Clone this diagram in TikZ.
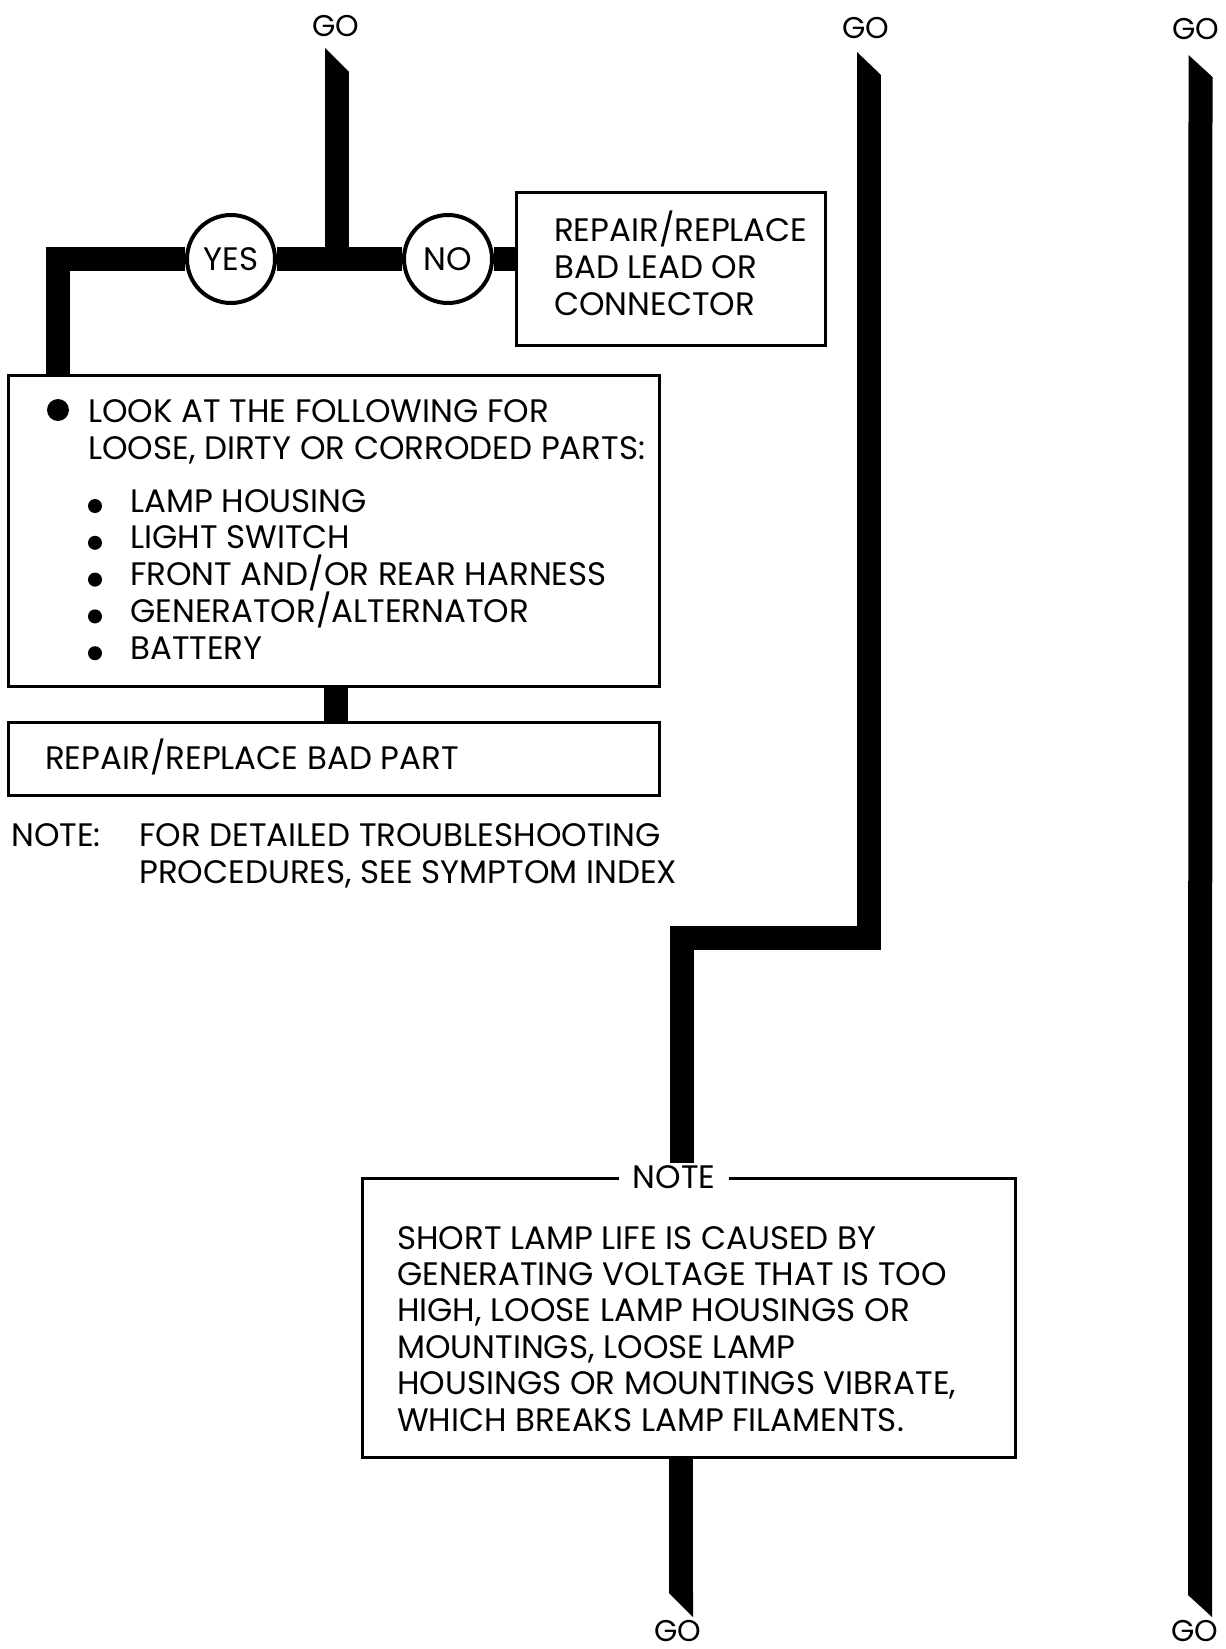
\documentclass[tikz,border=0pt]{standalone}
\usepackage{fontspec}
\setmainfont{Poppins}
\usetikzlibrary{positioning,calc}

\tikzset{
  flow/.style={line width=24pt, line join=miter},
  box/.style={draw, line width=3pt, rectangle, inner sep=0pt, anchor=north west},
  answer/.style={draw, circle, line width=4pt, fill=white, minimum size=88pt, inner sep=0pt},
  txt/.style={inner sep=0pt, anchor=base west},
  golabel/.style={inner sep=0pt, anchor=base, font=\fontsize{30}{36}\selectfont}
}

\begin{document}
\begin{tikzpicture}[x=1pt, y=-1pt, font=\fontsize{32.5}{37}\selectfont]
\useasboundingbox (0,0) rectangle (1226,1649);

% go labels
\node[golabel] (goA) at (336,36) {GO};
\node[golabel] (goB) at (866,38) {GO};
\node[golabel] (goC) at (1196,39) {GO};
\node[golabel] (goD) at (678,1641) {GO};
\node[golabel] (goE) at (1195,1641) {GO};

% boxes
\node[box, minimum width=309pt, minimum height=153pt] (lead) at (515,191) {};
\node[box, minimum width=651pt, minimum height=311pt] (look) at (7,374) {};
\node[box, minimum width=651pt, minimum height=73pt] (part) at (7,721) {};
\node[box, minimum width=653pt, minimum height=279pt] (note) at (361,1177) {};

% line ends
\coordinate (tipA) at (337,72);
\coordinate (tipB) at (869,75);
\coordinate (tipC) at (1200.5,77);
\coordinate (tipD) at (681,1593);
\coordinate (tipE) at (1200,1595);
\coordinate (jog) at (681.5,937.5);
\foreach \x/\ya/\yb in {337/48/72, 869/52/75, 1200.5/55/77}
  \fill (\x-12,\ya) -- (\x+12,\yb) -- (\x-12,\yb) -- cycle;
\foreach \x/\ya/\yb in {681/1593/1617, 1200/1595/1617}
  \fill (\x-12,\ya) -- (\x+12,\ya) -- (\x+12,\yb) -- cycle;

% yes / no
\node[answer] (yes) at (231,259) {YES};
\node[answer] (no) at (448,259) {NO};

\draw[flow] (tipA) -- (tipA |- yes);
\draw[flow] ($(look.north west)+(51,0)$) |- (yes.west);
\draw[flow] (yes.east) -- (no.west);
\draw[flow] (no.east) -- (no.east -| lead.west);
\draw[flow] (look.south -| goA) -- (part.north -| goA);
\draw[flow] (tipB) |- (jog) -- (jog |- note.north);
\draw[flow] (note.south -| tipD) -- (tipD);
\draw[flow] (tipC) -- (tipE);

% texts
\foreach \row [count=\i from 0] in {REPAIR/REPLACE, BAD LEAD OR, CONNECTOR}
  \node[txt] (leadtext\i) at (554,{241+37*\i}) {\row};

\fill (58,410) circle (11);
\foreach \row [count=\i from 0] in {LOOK AT THE FOLLOWING FOR, {LOOSE, DIRTY OR CORRODED PARTS:}}
  \node[txt] (looktext\i) at (88,{422+37*\i}) {\row};
\foreach \thing [count=\i from 0] in {LAMP HOUSING, LIGHT SWITCH, FRONT AND/OR REAR HARNESS, GENERATOR/ALTERNATOR, BATTERY}{
  \fill (95,{506+36.8*\i}) circle (7);
  \node[txt] (item\i) at (130,{512+36.8*\i}) {\thing};
}
\node[txt] (parttext) at (45,769) {REPAIR/REPLACE BAD PART};
\node[txt] (notehead) at (11,846) {NOTE:};
\foreach \row [count=\i from 0] in {FOR DETAILED TROUBLESHOOTING, {PROCEDURES, SEE SYMPTOM INDEX}}
  \node[txt] (notebody\i) at (139,{846+37*\i}) {\row};

\node[fill=white, inner xsep=14pt, inner ysep=2pt] (notelabel) at (674,1177) {NOTE};
\foreach \row [count=\i from 0] in {SHORT LAMP LIFE IS CAUSED BY, GENERATING VOLTAGE THAT IS TOO, {HIGH, LOOSE LAMP HOUSINGS OR}, {MOUNTINGS, LOOSE LAMP}, {HOUSINGS OR MOUNTINGS VIBRATE,}, WHICH BREAKS LAMP FILAMENTS.}
  \node[txt] (notetext\i) at (397,{1249+36.4*\i}) {\row};
\end{tikzpicture}
\end{document}
